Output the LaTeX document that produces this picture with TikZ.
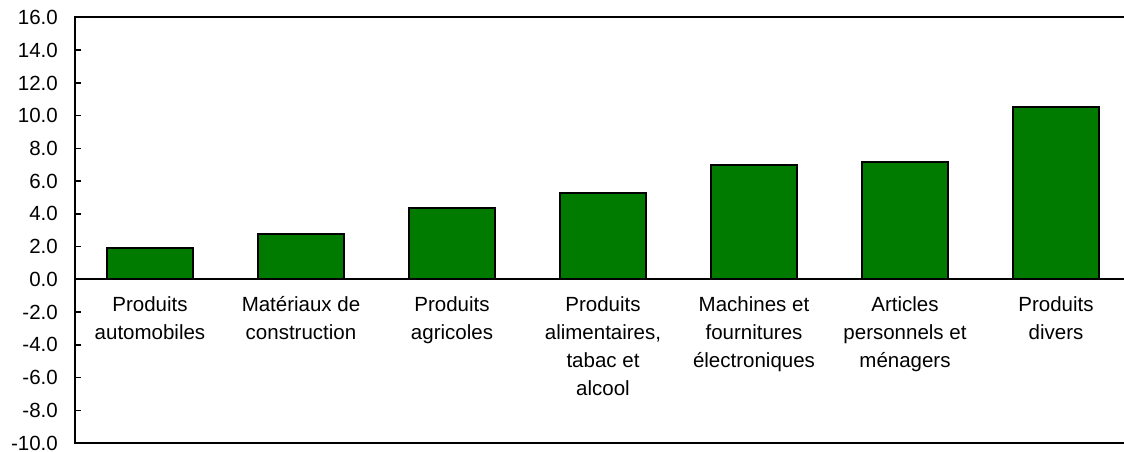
\documentclass[tikz,border=0pt]{standalone}
\usepackage{fontspec}
\setmainfont{Liberation Sans}
\definecolor{bargreen}{RGB}{0,123,0}
\begin{document}
\begin{tikzpicture}[x=1pt,y=1pt,
  axisline/.style={line width=2pt,black},
  tickline/.style={line width=1.5pt,black},
  barbox/.style={fill=bargreen,draw=black,line width=2pt},
  ticklabel/.style={anchor=east,inner sep=0pt,font=\fontsize{20.5}{28}\selectfont},
  catlabel/.style={anchor=north,inner sep=0pt,align=center,font=\fontsize{20.5}{28}\selectfont,execute at begin node=\strut}]
\useasboundingbox (0,0) rectangle (1124,451);
\begin{scope}[x=1pt,y=16.37pt,shift={(0pt,171.6pt)}]
  % bars
  \foreach \i/\v in {0/1.92,1/2.79,2/4.36,3/5.26,4/6.97,5/7.17,6/10.51}{
    \draw[barbox] ({150+151*\i-43},0) rectangle ({150+151*\i+43},\v);
  }
  % ticks and tick labels
  \foreach \v in {14,12,...,-8}{
    \draw[tickline] (75,\v) -- (81,\v);
  }
  \foreach \v/\t in {16/16.0,14/14.0,12/12.0,10/10.0,8/8.0,6/6.0,4/4.0,2/2.0,0/0.0,-2/-2.0,-4/-4.0,-6/-6.0,-8/-8.0,-10/-10.0}{
    \node[ticklabel] (t\v) at (58,\v) {\t};
  }
  % axes
  \draw[axisline] (75,0) -- (1130,0);
  \draw[axisline] (1130,16) -- (75,16) -- (75,-10) -- (1130,-10);
  % category labels
  \node[catlabel] (c1) at (150,-1.04) {Produits\\automobiles};
  \node[catlabel] (c2) at (301,-1.04) {Matériaux de\\construction};
  \node[catlabel] (c3) at (452,-1.04) {Produits\\agricoles};
  \node[catlabel] (c4) at (603,-1.04) {Produits\\alimentaires,\\tabac et\\alcool};
  \node[catlabel] (c5) at (754,-1.04) {Machines et\\fournitures\\électroniques};
  \node[catlabel] (c6) at (905,-1.04) {Articles\\personnels et\\ménagers};
  \node[catlabel] (c7) at (1056,-1.04) {Produits\\divers};
\end{scope}
\end{tikzpicture}
\end{document}
